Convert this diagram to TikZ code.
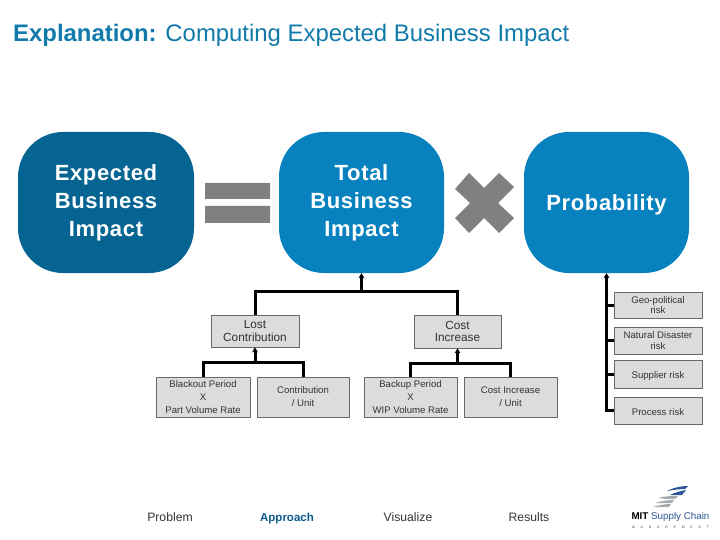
\documentclass[tikz,border=0pt]{standalone}
\usepackage{fontspec}
\setmainfont{Liberation Sans}
\usetikzlibrary{arrows.meta}
\definecolor{deepblue}{RGB}{5,100,146}
\definecolor{midblue}{RGB}{8,130,190}
\definecolor{titleblue}{RGB}{16,122,170}
\definecolor{tabblue}{RGB}{10,90,140}
\definecolor{signgrey}{RGB}{128,128,128}
\definecolor{boxgrey}{RGB}{220,220,220}
\definecolor{boxline}{RGB}{105,105,105}
\definecolor{logoblue}{RGB}{45,85,150}
\definecolor{logogrey}{RGB}{165,170,175}
\begin{document}
\begin{tikzpicture}[x=1pt,y=-1pt,
  big/.style={rounded corners=45pt,minimum width=165pt,minimum height=141pt,inner sep=0pt,
              align=center,text=white,fill=midblue,execute at begin node={\rule{0pt}{20pt}},
              font=\fontsize{22}{28}\selectfont\bfseries\addfontfeature{LetterSpace=3}},
  cbox/.style={draw=boxline,fill=boxgrey,line width=.8pt,align=center,inner sep=0pt,
               font=\fontsize{11.8}{12.5}\selectfont,text=black!80},
  sbox/.style={cbox,minimum height=40pt,font=\fontsize{9.6}{13}\selectfont},
  rbox/.style={cbox,minimum width=88pt,font=\fontsize{9.6}{10.5}\selectfont},
  low/.style={execute at begin node={\rule{0pt}{#1}}},
  tabel/.style={anchor=base,font=\fontsize{12.2}{14}\selectfont,text=black!80},
  a/.style={-{Stealth[length=5pt,width=6pt]},line width=3pt,black},
  b/.style={line width=3pt,black}]
 \useasboundingbox (0,0) rectangle (720,540);
 \node[anchor=base west,inner sep=0pt,text=titleblue,font=\fontsize{23.9}{26}\selectfont] (title) at (13,42)
   {\textbf{Explanation:} Computing Expected Business Impact};
 % top row
 \node[big,minimum width=176pt,fill=deepblue] (ebi) at (106,202.5) {Expected\\Business\\Impact};
 \node[big] (tbi) at (361.5,202.5) {Total\\Business\\Impact};
 \node[big] (prob) at (606.5,202.5) {Probability};
 \fill[signgrey] (205,183) rectangle (270,199) (205,206) rectangle (270,223);
 \fill[signgrey] (455,189) -- (469,173) -- (484,188) -- (499,173) -- (514,187) -- (498,203)
   -- (514,218) -- (499,233) -- (484,218) -- (469,233) -- (455,218) -- (470,203) -- cycle;
 % tree
 \node[cbox,minimum width=88pt,minimum height=32pt] (lost) at (255,331) {Lost\\Contribution};
 \node[cbox,minimum width=87pt,minimum height=33pt] (cost) at (457.5,331.5) {Cost\\Increase};
 \node[sbox,minimum width=94pt] (black) at (203,397) {Blackout Period\\X\\Part Volume Rate};
 \node[sbox,low=14pt,minimum width=92pt] (contr) at (303,397) {Contribution\\/ Unit};
 \node[sbox,minimum width=93pt] (backup) at (410.5,397) {Backup Period\\X\\WIP Volume Rate};
 \node[sbox,low=14pt,minimum width=93pt] (cinc) at (510.5,397) {Cost Increase\\/ Unit};
 \coordinate (jtop) at (361.5,291);
 \coordinate (jlost) at (255,362);
 \coordinate (jcost) at (457.5,363);
 \draw[b] (lost.north) |- (jtop) -| (cost.north);
 \draw[a] (jtop)--(tbi.south);
 \draw[b] (black.north) |- (jlost) -| (contr.north);
 \draw[a] (jlost)--(lost.south);
 \draw[b] (backup.north) |- (jcost) -| (cinc.north);
 \draw[a] (jcost)--(cost.south);
 % risks
 \node[rbox,minimum height=26pt] (geo) at (658,305) {Geo-political\\risk};
 \node[rbox,minimum height=27pt] (nat) at (658,340.5) {Natural Disaster\\risk};
 \node[rbox,low=11pt,minimum height=28pt] (sup) at (658,374) {Supplier risk};
 \node[rbox,low=10pt,minimum height=27pt] (proc) at (658,410.5) {Process risk};
 \draw[a] (proc.west) -| (prob.south);
 \draw[b] (geo.west)--(geo.west-|prob.south);
 \draw[b] (nat.west)--(nat.west-|prob.south);
 \draw[b] (sup.west)--(sup.west-|prob.south);
 % footer
 \node[tabel] (tab1) at (170,521) {Problem};
 \node[tabel,text=tabblue,font=\fontsize{11.5}{14}\selectfont\bfseries] (tab2) at (287,521) {Approach};
 \node[tabel] (tab3) at (408,521) {Visualize};
 \node[tabel] (tab4) at (529,521) {Results};
 % logo
 \fill[logoblue] (667,491) .. controls (675,487) and (682,486) .. (688,486) -- (685,489)
   .. controls (679,489) and (673,490) .. (667,491);
 \fill[logoblue] (670,495) .. controls (676,492) and (681,491) .. (686,490) -- (682,495)
   .. controls (678,495) and (674,495) .. (670,495);
 \fill[logogrey] (658,498) .. controls (664,496) and (672,496) .. (678,496) -- (675,499)
   .. controls (669,499) and (663,499) .. (658,498);
 \fill[logogrey] (655,503) .. controls (661,501) and (668,500) .. (674,500) -- (672,503)
   .. controls (667,503) and (661,503) .. (655,503);
 \fill[logogrey] (653,507) .. controls (659,505) and (665,504) .. (671,504) -- (669,507)
   .. controls (664,507) and (658,507) .. (653,507);
 \node[inner sep=0pt,font=\fontsize{9.8}{10}\selectfont,text=black] (mit) at (670.5,517)
   {\textbf{MIT} \textcolor{logoblue}{Supply Chain}};
 \node[inner sep=0pt,font=\fontsize{3.5}{4}\selectfont,text=black!70] (mgmt) at (670.5,527)
   {\makebox[77pt][s]{M\hfil A\hfil N\hfil A\hfil G\hfil E\hfil M\hfil E\hfil N\hfil T}};
\end{tikzpicture}
\end{document}
